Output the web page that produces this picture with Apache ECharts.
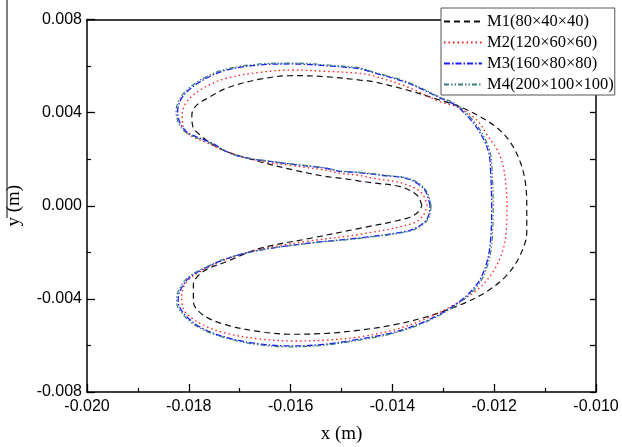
<!DOCTYPE html>
<html>
<head>
<meta charset="utf-8">
<script src="https://cdn.jsdelivr.net/npm/echarts@6/dist/echarts.min.js"></script>
<style>html,body{margin:0;padding:0;background:#fff;}#c{width:622px;height:447px;}</style>
</head>
<body>
<div id="c"></div>
<script>
// Axis ticks
const xTicks = [-0.020, -0.018, -0.016, -0.014, -0.012, -0.010];
const yTicks = [-0.008, -0.004, 0.000, 0.004, 0.008];
const seriesNames = ['M1(80×40×40)', 'M2(120×60×60)', 'M3(160×80×80)', 'M4(200×100×100)'];

// Contour points [x (m), y (m)] (closed loops)
const m1Points = [
[-0.01342,0.00000],[-0.01352,0.00046],[-0.01385,0.00082],[-0.01438,0.00098],[-0.01464,0.00106],[-0.01503,0.00119],[-0.01529,0.00125],[-0.01595,0.00154],[-0.01660,0.00189],[-0.01725,0.00232],[-0.01752,0.00261],[-0.01778,0.00304],[-0.01792,0.00340],[-0.01794,0.00390],[-0.01784,0.00433],[-0.01758,0.00468],[-0.01725,0.00506],[-0.01660,0.00544],[-0.01595,0.00559],[-0.01529,0.00554],[-0.01464,0.00540],[-0.01438,0.00533],[-0.01371,0.00497],[-0.01307,0.00454],[-0.01267,0.00425],[-0.01228,0.00383],[-0.01194,0.00334],[-0.01169,0.00275],[-0.01149,0.00189],[-0.01139,0.00103],[-0.01136,0.00000],
[-0.01136,-0.00112],[-0.01149,-0.00212],[-0.01175,-0.00298],[-0.01215,-0.00369],[-0.01267,-0.00426],[-0.01333,-0.00477],[-0.01398,-0.00512],[-0.01464,-0.00534],[-0.01529,-0.00548],[-0.01595,-0.00552],[-0.01660,-0.00541],[-0.01726,-0.00512],[-0.01772,-0.00469],[-0.01791,-0.00412],[-0.01791,-0.00340],[-0.01772,-0.00283],[-0.01726,-0.00240],[-0.01660,-0.00183],[-0.01562,-0.00140],[-0.01464,-0.00097],[-0.01372,-0.00054],[-0.01352,-0.00032],[-0.01342,0.00000]
];
const m2Points = [
[-0.01332,0.00000],[-0.01342,0.00054],[-0.01379,0.00096],[-0.01438,0.00118],[-0.01464,0.00130],[-0.01503,0.00140],[-0.01529,0.00152],[-0.01595,0.00172],[-0.01660,0.00192],[-0.01725,0.00232],[-0.01760,0.00266],[-0.01798,0.00304],[-0.01811,0.00340],[-0.01813,0.00390],[-0.01804,0.00447],[-0.01772,0.00505],[-0.01725,0.00548],[-0.01660,0.00573],[-0.01595,0.00583],[-0.01529,0.00577],[-0.01464,0.00569],[-0.01438,0.00558],[-0.01371,0.00511],[-0.01307,0.00447],[-0.01270,0.00422],[-0.01234,0.00368],[-0.01214,0.00304],[-0.01194,0.00240],[-0.01183,0.00175],[-0.01177,0.00089],[-0.01175,0.00000],
[-0.01176,-0.00095],[-0.01182,-0.00183],[-0.01202,-0.00283],[-0.01234,-0.00362],[-0.01280,-0.00426],[-0.01333,-0.00484],[-0.01398,-0.00534],[-0.01464,-0.00563],[-0.01529,-0.00577],[-0.01595,-0.00581],[-0.01660,-0.00572],[-0.01726,-0.00548],[-0.01778,-0.00505],[-0.01811,-0.00441],[-0.01814,-0.00383],[-0.01804,-0.00326],[-0.01778,-0.00283],[-0.01726,-0.00230],[-0.01660,-0.00187],[-0.01562,-0.00151],[-0.01464,-0.00123],[-0.01359,-0.00075],[-0.01339,-0.00040],[-0.01332,0.00000]
];
const m3Points = [
[-0.01326,0.00000],[-0.01334,0.00058],[-0.01348,0.00091],[-0.01372,0.00117],[-0.01418,0.00130],[-0.01470,0.00143],[-0.01503,0.00148],[-0.01529,0.00160],[-0.01595,0.00178],[-0.01660,0.00196],[-0.01694,0.00209],[-0.01725,0.00232],[-0.01756,0.00271],[-0.01795,0.00305],[-0.01808,0.00326],[-0.01818,0.00360],[-0.01822,0.00403],[-0.01814,0.00462],[-0.01789,0.00516],[-0.01756,0.00558],[-0.01724,0.00584],[-0.01660,0.00605],[-0.01595,0.00609],[-0.01529,0.00601],[-0.01464,0.00588],[-0.01438,0.00572],[-0.01372,0.00529],[-0.01308,0.00465],[-0.01275,0.00430],[-0.01245,0.00366],[-0.01225,0.00303],[-0.01211,0.00230],[-0.01207,0.00145],[-0.01205,0.00000],
[-0.01208,-0.00168],[-0.01218,-0.00268],[-0.01237,-0.00346],[-0.01276,-0.00424],[-0.01334,-0.00495],[-0.01398,-0.00544],[-0.01464,-0.00573],[-0.01529,-0.00594],[-0.01595,-0.00602],[-0.01660,-0.00594],[-0.01725,-0.00566],[-0.01776,-0.00523],[-0.01808,-0.00467],[-0.01821,-0.00411],[-0.01818,-0.00369],[-0.01801,-0.00313],[-0.01776,-0.00277],[-0.01725,-0.00227],[-0.01660,-0.00191],[-0.01562,-0.00160],[-0.01464,-0.00138],[-0.01373,-0.00110],[-0.01348,-0.00088],[-0.01331,-0.00053],[-0.01326,0.00000]
];
const m4Points = [
[-0.01324,0.00000],[-0.01332,0.00059],[-0.01346,0.00093],[-0.01371,0.00119],[-0.01418,0.00132],[-0.01470,0.00145],[-0.01503,0.00149],[-0.01529,0.00162],[-0.01595,0.00179],[-0.01660,0.00197],[-0.01694,0.00209],[-0.01725,0.00231],[-0.01758,0.00270],[-0.01798,0.00304],[-0.01811,0.00325],[-0.01821,0.00360],[-0.01825,0.00403],[-0.01817,0.00463],[-0.01792,0.00519],[-0.01758,0.00562],[-0.01725,0.00588],[-0.01660,0.00609],[-0.01595,0.00613],[-0.01529,0.00605],[-0.01464,0.00592],[-0.01438,0.00575],[-0.01371,0.00532],[-0.01307,0.00467],[-0.01273,0.00433],[-0.01242,0.00368],[-0.01222,0.00304],[-0.01208,0.00231],[-0.01204,0.00145],[-0.01202,0.00000],
[-0.01205,-0.00169],[-0.01215,-0.00269],[-0.01234,-0.00348],[-0.01274,-0.00426],[-0.01333,-0.00498],[-0.01398,-0.00548],[-0.01464,-0.00577],[-0.01529,-0.00598],[-0.01595,-0.00606],[-0.01660,-0.00598],[-0.01726,-0.00569],[-0.01778,-0.00526],[-0.01811,-0.00469],[-0.01824,-0.00412],[-0.01821,-0.00369],[-0.01804,-0.00312],[-0.01778,-0.00276],[-0.01726,-0.00226],[-0.01660,-0.00190],[-0.01562,-0.00161],[-0.01464,-0.00140],[-0.01372,-0.00112],[-0.01346,-0.00090],[-0.01329,-0.00054],[-0.01324,0.00000]
];

const chart = echarts.init(document.getElementById('c'), null, {renderer: 'canvas'});
const labelFont = {fontFamily: 'Liberation Sans, Arial, sans-serif', fontSize: 16, color: '#000'};
const serifFont = 'Liberation Serif, Times New Roman, serif';
const lineStyles = [
  {color: '#111111', width: 1.2, type: [6, 4]},
  {color: '#ff1a1a', width: 1.3, type: [1.5, 3]},
  {color: '#1a1aff', width: 1.3, type: [6, 2, 1.5, 2]},
  {color: '#3b7d7d', width: 1.2, type: [5, 2, 1.5, 2, 1.5, 2]}
];
const pointSets = [m1Points, m2Points, m3Points, m4Points];

chart.setOption({
  animation: false,
  backgroundColor: '#fff',
  grid: {left: 87, top: 19.5, right: 26, bottom: 55, containLabel: false, outerBoundsMode: 'none'},
  legend: {
    orient: 'vertical', left: 441, top: 8,
    data: seriesNames,
    backgroundColor: '#fff', borderColor: '#555', borderWidth: 1,
    padding: [5, 1, 2, 2],
    itemWidth: 38, itemHeight: 14, itemGap: 4,
    itemStyle: {opacity: 0, borderWidth: 0},
    textStyle: {fontFamily: serifFont, fontSize: 16.5, color: '#000'},
    z: 10
  },
  xAxis: [{
    type: 'value', position: 'bottom', min: xTicks[0], max: xTicks[xTicks.length - 1], interval: 0.002,
    name: 'x (m)', nameLocation: 'middle', nameGap: 33,
    nameTextStyle: {fontFamily: serifFont, fontSize: 19, color: '#000'},
    axisLine: {show: true, onZero: false, lineStyle: {color: '#000', width: 1.5}},
    axisTick: {show: true, inside: true, length: 8, lineStyle: {color: '#000', width: 1.3}},
    minorTick: {show: true, splitNumber: 2, length: 4, lineStyle: {color: '#000', width: 1.2}},
    axisLabel: Object.assign({margin: 7, formatter: v => v.toFixed(3)}, labelFont),
    splitLine: {show: false}
  }, {
    type: 'value', position: 'top', min: xTicks[0], max: xTicks[xTicks.length - 1], interval: 0.002,
    axisLine: {show: true, onZero: false, lineStyle: {color: '#000', width: 1.5}},
    axisTick: {show: false}, axisLabel: {show: false}, splitLine: {show: false}
  }],
  yAxis: [{
    type: 'value', position: 'left', min: yTicks[0], max: yTicks[yTicks.length - 1], interval: 0.004,
    name: 'y (m)', nameLocation: 'middle', nameGap: 63,
    nameTextStyle: {fontFamily: serifFont, fontSize: 19, color: '#000'},
    axisLine: {show: true, onZero: false, lineStyle: {color: '#000', width: 1.5}},
    axisTick: {show: true, inside: true, length: 8, lineStyle: {color: '#000', width: 1.3}},
    minorTick: {show: true, splitNumber: 2, length: 4, lineStyle: {color: '#000', width: 1.2}},
    axisLabel: Object.assign({margin: 5, formatter: v => v.toFixed(3)}, labelFont),
    splitLine: {show: false}
  }, {
    type: 'value', position: 'right', min: yTicks[0], max: yTicks[yTicks.length - 1], interval: 0.002,
    axisLine: {show: true, onZero: false, lineStyle: {color: '#000', width: 1.5}},
    axisTick: {show: true, inside: true, length: 6, lineStyle: {color: '#000', width: 1.3}},
    axisLabel: {show: false}, splitLine: {show: false}
  }],
  graphic: [{
    type: 'line', shape: {x1: 7, y1: 0, x2: 7, y2: 218},
    style: {stroke: '#000', lineWidth: 1}, z: 5
  }],
  series: seriesNames.map((name, i) => ({
    name: name, type: 'line', xAxisIndex: 0, yAxisIndex: 0,
    data: pointSets[i], symbol: 'none', showSymbol: false, smooth: 0.35,
    lineStyle: lineStyles[i], itemStyle: {color: lineStyles[i].color},
    z: 2 + i
  }))
});
</script>
</body>
</html>
